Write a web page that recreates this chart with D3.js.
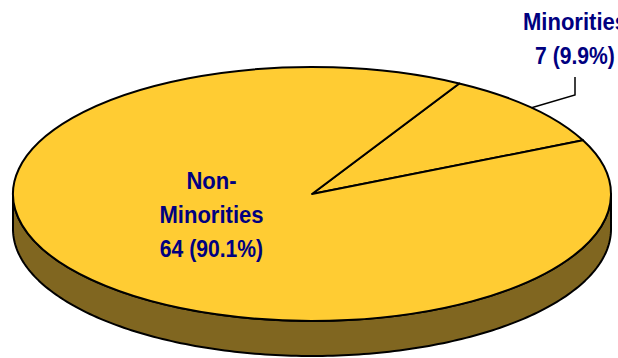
<!DOCTYPE html>
<html><head><meta charset="utf-8">
<script src="https://cdn.jsdelivr.net/npm/d3@7/dist/d3.min.js"></script>
<style>html,body{margin:0;padding:0;background:#fff}svg{display:block}</style>
</head><body><svg id="c" width="618" height="358"></svg>
<script>
const categories = ["Minorities", "Non-Minorities"];
const values = [7, 64];
const percents = ["9.9%", "90.1%"];

const cx = 312, cy = 194, rx = 299, ry = 127, depth = 35;
const startDeg = 29.5 * Math.PI / 180;
const topColor = "#FFCC33", sideColor = "#806620", ink = "#000080";

const svg = d3.select("#c");
const pie = d3.pie().sort(null).value(d => d.v).startAngle(startDeg).endAngle(startDeg + 2 * Math.PI);
const arcs = pie(categories.map((c, i) => ({c, v: values[i]})));
const arc = d3.arc().innerRadius(0).outerRadius(rx);
const ky = ry / rx;

// side wall: the lower half of the rim, extruded downward
const rim = d3.range(0, 181).map(i => {
  const a = Math.PI / 2 + i * Math.PI / 180;
  return [cx + rx * Math.sin(a), cy - ry * Math.cos(a)];
});
const wall = rim.concat(rim.slice().reverse().map(p => [p[0], p[1] + depth]));
svg.append("path").attr("d", d3.line()(wall) + "Z")
  .attr("fill", sideColor).attr("stroke", "#000").attr("stroke-width", 2).attr("stroke-linejoin", "round");

// top face
svg.append("g").attr("transform", `translate(${cx},${cy}) scale(1,${ky})`)
  .selectAll("path").data(arcs).join("path")
  .attr("d", arc).attr("fill", topColor).attr("stroke", "#000").attr("stroke-width", 2)
  .attr("stroke-linejoin", "round").attr("vector-effect", "non-scaling-stroke");

// leader line for the small slice, anchored at its mid-angle on the rim
const d0 = arcs[0], mid = (d0.startAngle + d0.endAngle) / 2;
const ax = cx + rx * Math.sin(mid), ay = cy - ry * Math.cos(mid);
svg.append("path").attr("d", d3.line()([[ax, ay], [575, 95], [575, 77]]))
  .attr("fill", "none").attr("stroke", "#000").attr("stroke-width", 1.5);

function label(lines, x, ys) {
  lines.forEach((t, i) => {
    const sx = i === lines.length - 1 ? 0.88 : 0.92;
    svg.append("text").attr("transform", `translate(${x},${ys[i]}) scale(${sx},1)`)
      .attr("text-anchor", "middle").attr("font-family", "'Liberation Sans',Arial,sans-serif")
      .attr("font-weight", "bold").attr("font-size", 24).attr("fill", ink).text(t);
  });
}
label([categories[0], `${values[0]} (${percents[0]})`], 575, [30, 64]);
label(["Non-", "Minorities", `${values[1]} (${percents[1]})`], 211.5, [189, 223, 257]);
</script></body></html>
